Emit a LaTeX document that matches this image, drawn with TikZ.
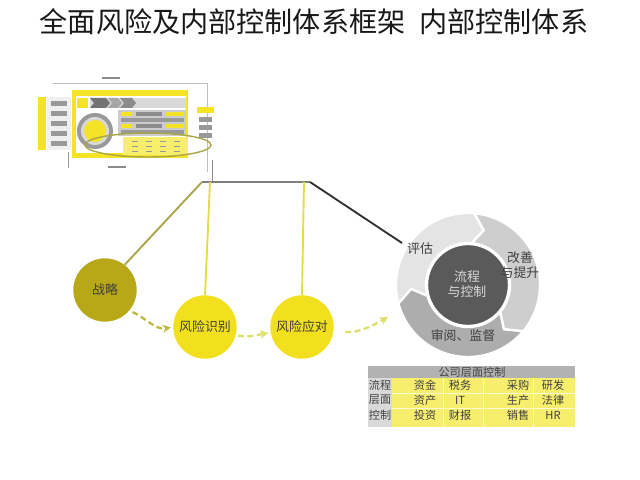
\documentclass[tikz,border=0pt]{standalone}
\usepackage{fontspec}
\setmainfont{Noto Sans CJK SC}
\usetikzlibrary{arrows.meta,calc}
\definecolor{olivec}{HTML}{B8A717}
\definecolor{yelc}{HTML}{F2E01E}
\definecolor{tyel}{HTML}{F5E326}
\definecolor{tblyel}{HTML}{F8EE6E}
\definecolor{lineol}{HTML}{A9A548}
\definecolor{lineyel}{HTML}{E4DC48}
\definecolor{segA}{HTML}{E4E4E4}
\definecolor{segB}{HTML}{CECECE}
\definecolor{segC}{HTML}{ADADAD}
\definecolor{ctrc}{HTML}{5A5A5A}
\definecolor{dasholive}{HTML}{BDB944}
\definecolor{dashlight}{HTML}{DCE06A}
\tikzset{
  bigcirc/.style={circle,minimum size=1.9cm,inner sep=0pt,font=\fontsize{11pt}{13pt}\selectfont,text=black!75},
  dasharrow/.style={dashed,dash pattern=on 5pt off 3pt,line width=2pt,-{Stealth[length=7pt,width=7pt]}},
  cyctext/.style={font=\fontsize{11pt}{13pt}\selectfont,text=black!75,align=center},
  tbltext/.style={font=\fontsize{9.5pt}{11pt}\selectfont,text=black!75,inner sep=0pt},
}
\begin{document}
\begin{tikzpicture}[x=0.03cm,y=-0.03cm]
\useasboundingbox[fill=white] (0,0) rectangle (640,480);
% title
\node[font=\fontsize{24pt}{26pt}\selectfont,text=black!90] (title) at (314,22) {全面风险及内部控制体系框架\hspace{0.5em}内部控制体系};

% ---------- thumbnail ----------
\draw[black!25,line width=0.4pt] (53,83) -- (207,83) -- (207,172);
\fill[black!45] (102,77) rectangle (120,79);
\fill[black!45] (108,166) rectangle (126,168);
\draw[black!40,line width=0.4pt] (68,152) -- (68,168);
\fill[tyel] (38,97) rectangle (46,150);
\fill[black!6] (47,97) rectangle (71,150);
\foreach \yy in {101,111,121,131,141} \fill[black!40] (51,\yy) rectangle (67,\yy+5);
\fill[tyel] (72,90) rectangle (188,158);
\fill[white] (76,96) rectangle (186,153);
\fill[black!15] (90,98) rectangle (186,108);
\fill[tyel] (77,98) rectangle (88,108);
\fill[black!55] (90,98) -- (106,98) -- (110,103) -- (106,108) -- (90,108) -- (94,103) -- cycle;
\fill[black!35] (108,98) -- (118,98) -- (122,103) -- (118,108) -- (108,108) -- (112,103) -- cycle;
\fill[black!45] (120,98) -- (132,98) -- (136,103) -- (132,108) -- (120,108) -- (124,103) -- cycle;
\fill[black!20] (118,110) rectangle (186,136);
\foreach \yy in {112,124} {
  \fill[tyel] (121,\yy) rectangle (132,\yy+4);
  \fill[black!45] (136,\yy) rectangle (162,\yy+4);
  \fill[tyel] (166,\yy) rectangle (184,\yy+4);
}
\foreach \yy in {118,130} \fill[black!40] (121,\yy) rectangle (184,\yy+4);
\fill[black!40] (95,131) circle[radius=18];
\fill[black!15] (95,131) circle[radius=14];
\fill[tyel] (95,131) circle[radius=11];
\fill[tblyel] (123,137) rectangle (188,155);
\foreach \xx in {132,146,160,174} \foreach \yy in {141,146,151} \fill[black!40] (\xx,\yy) rectangle (\xx+6,\yy+1.5);
\fill[tyel] (197,107) rectangle (214,113);
\foreach \yy in {117,125,133} \fill[black!40] (199,\yy) rectangle (212,\yy+5);
\draw[lineol,line width=1.2pt] (148,145) ellipse[x radius=63,y radius=12];

% ---------- circles ----------
\node[bigcirc,fill=olivec] (zl) at (105,290) {战略};
\node[bigcirc,fill=yelc] (fx) at (205,327) {风险识别};
\node[bigcirc,fill=yelc] (yd) at (302,327) {风险应对};

% ---------- connector lines ----------
\coordinate (cl) at (202,182);
\coordinate (cr) at (310,182);
\coordinate (v1) at (210,182);
\coordinate (v2) at (304,182);
\coordinate (thb) at (212,160);
\coordinate (cyc) at (402,243);
\draw[black!45,line width=0.5pt] (thb) -- (212,182);
\draw[lineol,line width=1.6pt] (zl.52) -- (cl);
\draw[black!50,line width=1.6pt] (cl) -- (cr);
\draw[black!80,line width=1.6pt] (cr) -- (cyc);
\draw[lineyel,line width=1.6pt] (v1) -- (fx.north);
\draw[lineyel,line width=1.6pt] (v2) -- (yd.north);

% ---------- dashed arrows ----------
\coordinate (arrend) at (388,317);
\draw[dasharrow,dasholive,shorten <=3pt,shorten >=2pt] (zl.-40) to[out=-25,in=190] (fx.west);
\draw[dasharrow,dashlight,shorten <=2pt,shorten >=2pt] (fx.-15) to[out=-10,in=190] (yd.190);
\draw[dasharrow,dashlight,shorten <=10pt] (yd.-5) to[out=-10,in=210] (arrend);

% ---------- cycle ----------
\begin{scope}[shift={(468,285)},y=0.03cm]
\def\RO{72}\def\RI{42}\def\RM{57}\def\TT{11}
\foreach \a/\b/\c in {195/85/segA,85/-40/segB,-40/-165/segC}{
  \pgfmathsetmacro{\bt}{\b-\TT}
  \pgfmathsetmacro{\at}{\a-\TT}
  \filldraw[fill=\c,draw=white,line width=2pt,line join=miter]
    (\a:\RO) arc[start angle=\a,end angle=\b,radius=\RO] -- (\bt:\RM) -- (\b:\RI)
    arc[start angle=\b,end angle=\a,radius=\RI] -- (\at:\RM) -- cycle;
}
\filldraw[fill=ctrc,draw=white,line width=2pt] (0,0) circle[radius=41];
\end{scope}
\node[cyctext,text=black!15] (ctr) at (467,284) {流程\\与控制};
\node[cyctext] (pg) at (420,249) {评估};
\node[cyctext] (gs) at (520,265) {改善\\与提升};
\node[cyctext] (sy) at (463,336) {审阅、监督};

% ---------- table ----------
\fill[black!30] (368,366) rectangle (575,378);
\fill[black!15] (368,378) rectangle (392,427);
\fill[tblyel] (392,378) rectangle (575,427);
\draw[white,line width=0.6pt,opacity=0.7] (392,393) -- (575,393) (392,408) -- (575,408)
  (443,378) -- (443,427) (483,378) -- (483,427) (533,378) -- (533,427);
\node[tbltext] (hd) at (472,372) {公司层面控制};
\node[tbltext] (l1) at (380,385) {流程};
\node[tbltext] (l2) at (380,400) {层面};
\node[tbltext] (l3) at (380,415) {控制};
\node[tbltext] (a1) at (425,385) {资金};
\node[tbltext] (b1) at (460,385) {税务};
\node[tbltext] (c1) at (518,385) {采购};
\node[tbltext] (d1) at (553,385) {研发};
\node[tbltext] (a2) at (425,400) {资产};
\node[tbltext] (b2) at (460,400) {IT};
\node[tbltext] (c2) at (518,400) {生产};
\node[tbltext] (d2) at (553,400) {法律};
\node[tbltext] (a3) at (425,415) {投资};
\node[tbltext] (b3) at (460,415) {财报};
\node[tbltext] (c3) at (518,415) {销售};
\node[tbltext] (d3) at (553,415) {HR};
\end{tikzpicture}
\end{document}
